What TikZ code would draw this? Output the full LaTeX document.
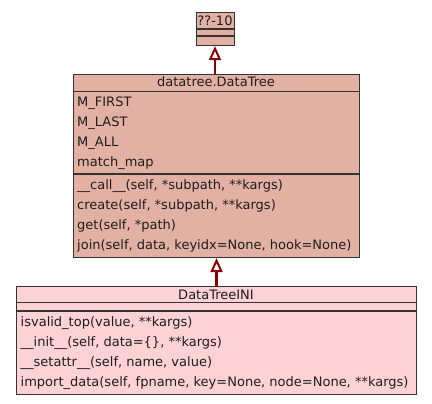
\documentclass[tikz,border=0pt]{standalone}
\usepackage{fontspec}
\setmainfont{DejaVu Sans}
\usetikzlibrary{arrows.meta}
\definecolor{boxA}{RGB}{227,177,164}
\definecolor{boxB}{RGB}{252,210,212}
\definecolor{edge}{RGB}{51,51,51}
\definecolor{txt}{RGB}{30,30,30}
\definecolor{arr}{RGB}{139,0,0}
\tikzset{
  umlbox/.style={draw=edge, line width=1.1pt, anchor=north west, inner sep=0pt},
  divider/.style={draw=edge, line width=1.1pt},
  title/.style={font=\fontsize{13}{15}\selectfont, text=txt, inner sep=0pt, anchor=base},
  member/.style={font=\fontsize{13}{15}\selectfont, text=txt, inner sep=0pt, anchor=base west},
  inherit/.style={draw=arr, line width=2.2pt, -{Triangle[open, length=14pt, width=12pt, line width=2pt]}}
}
\begin{document}
\begin{tikzpicture}[x=1pt,y=-1pt]
\useasboundingbox (0,0) rectangle (432,404);
% top box
\node[umlbox, fill=boxA, minimum width=38pt, minimum height=33pt] (b1) at (196,12) {};
\node[title] (b1t) at (215,25.5) {??-10};
\draw[divider] (196,29) -- (234,29);
\draw[divider] (196,36) -- (234,36);
% DataTree
\node[umlbox, fill=boxA, minimum width=286pt, minimum height=183pt] (b2) at (73,74) {};
\node[title] (b2t) at (216,87) {datatree.DataTree};
\draw[divider] (73,91.5) -- (359,91.5);
\draw[divider] (73,174) -- (359,174);
\node[member] (a1) at (77,106.5) {M\_FIRST};
\node[member] (a2) at (77,126.5) {M\_LAST};
\node[member] (a3) at (77,146.5) {M\_ALL};
\node[member] (a4) at (77,166.5) {match\_map};
\node[member] (m1) at (77,189.5) {\_\_call\_\_(self, *subpath, **kargs)};
\node[member] (m2) at (77,209.5) {create(self, *subpath, **kargs)};
\node[member] (m3) at (77,229.5) {get(self, *path)};
\node[member] (m4) at (77,249.5) {join(self, data, keyidx=None, hook=None)};
% DataTreeINI
\node[umlbox, fill=boxB, minimum width=400pt, minimum height=108pt] (b3) at (16,286) {};
\node[title] (b3t) at (216,299) {DataTreeINI};
\draw[divider] (16,302.7) -- (416,302.7);
\draw[divider] (16,311) -- (416,311);
\node[member] (n1) at (20.5,326.5) {isvalid\_top(value, **kargs)};
\node[member] (n2) at (20.5,346.5) {\_\_init\_\_(self, data=\{\}, **kargs)};
\node[member] (n3) at (20.5,366.5) {\_\_setattr\_\_(self, name, value)};
\node[member] (n4) at (20.5,386.5) {import\_data(self, fpname, key=None, node=None, **kargs)};
% inheritance
\draw[inherit] (b2.north -| 215,0) -- (b1.south -| 215,0);
\draw[inherit] (b3.north) -- (b2.south);
\end{tikzpicture}
\end{document}
